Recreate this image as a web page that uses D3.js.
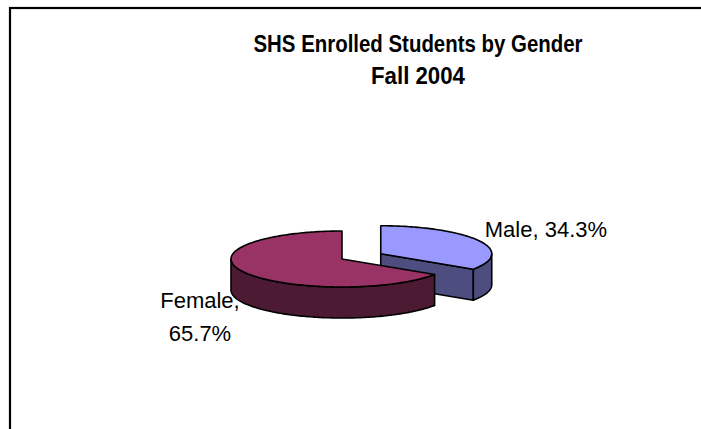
<!DOCTYPE html>
<html>
<head>
<meta charset="utf-8">
<script src="https://cdn.jsdelivr.net/npm/d3@7"></script>
<style>
  body { margin: 0; background: #fff; }
  svg { display: block; }
</style>
</head>
<body>
<div id="vis"></div>
<script>
const WIDTH = 701;
const HEIGHT = 429;

// data
const titleLines = ['SHS Enrolled Students by Gender', 'Fall 2004'];
const genders = ['Male', 'Female'];
const shares = [34.3, 65.7];
const topColors = ['#9999ff', '#993366'];
const sideColors = ['#4d4d80', '#4d1a33'];

// pie geometry (3d ellipse)
const CX = 342, CY = 259;
const RX = 111, RY = 28;
const DEPTH = 31;
const explode = { Male: 44, Female: 0 };

let svg = d3.select('#vis')
  .append('svg')
  .attr('width', WIDTH)
  .attr('height', HEIGHT);

svg.append('rect')
  .attr('width', WIDTH).attr('height', HEIGHT)
  .attr('fill', '#fff');

// chart frame (cropped at right and bottom)
svg.append('rect')
  .attr('x', 10).attr('y', 8)
  .attr('width', 900).attr('height', 600)
  .attr('fill', 'none')
  .attr('stroke', '#000')
  .attr('stroke-width', 2.2);

svg.selectAll('.title')
  .data(titleLines)
  .enter()
  .append('text')
  .attr('class', 'title')
  .attr('x', 418)
  .attr('y', (d, i) => 52 + i * 32)
  .attr('text-anchor', 'middle')
  .attr('textLength', (d, i) => i === 0 ? 329 : 94)
  .attr('lengthAdjust', 'spacingAndGlyphs')
  .style('font-family', 'Liberation Sans, Arial, sans-serif')
  .style('font-weight', 'bold')
  .style('font-size', '23px')
  .text(d => d);

let pie = d3.pie().sort(null).value(d => d.value);
let arcs = pie(genders.map((g, i) => ({ name: g, value: shares[i], i: i })));

let line = d3.line();

function pt(c, a, dy) {
  return [c[0] + RX * Math.sin(a), c[1] - RY * Math.cos(a) + (dy || 0)];
}
function sample(a0, a1) {
  let n = Math.max(2, Math.ceil(Math.abs(a1 - a0) / 0.02));
  return d3.range(n + 1).map(i => a0 + (a1 - a0) * i / n);
}

arcs.forEach(d => {
  let mid = (d.startAngle + d.endAngle) / 2;
  let e = explode[d.data.name];
  d.center = [CX + e * Math.sin(mid), CY - e * Math.cos(mid) * RY / RX];
});

let g = svg.append('g')
  .attr('stroke', '#000')
  .attr('stroke-width', 1.6)
  .attr('stroke-linejoin', 'round');

arcs.forEach(d => {
  let c = d.center;
  let i = d.data.i;
  // radial cut faces that face the viewer
  [[d.startAngle, -1], [d.endAngle, 1]].forEach(([a, s]) => {
    let ny = s * Math.sin(a);
    if (ny > 0.05) {
      let p = pt(c, a);
      g.append('path')
        .attr('d', line([c, p, [p[0], p[1] + DEPTH], [c[0], c[1] + DEPTH]]) + 'Z')
        .attr('fill', sideColors[i]);
    }
  });
  // front outer wall
  let a0 = Math.max(d.startAngle, Math.PI / 2);
  let a1 = Math.min(d.endAngle, Math.PI * 1.5);
  if (a1 > a0) {
    let angs = sample(a0, a1);
    let pts = angs.map(a => pt(c, a)).concat(angs.slice().reverse().map(a => pt(c, a, DEPTH)));
    g.append('path')
      .attr('d', line(pts) + 'Z')
      .attr('fill', sideColors[i]);
  }
  // top face
  let topPts = [c].concat(sample(d.startAngle, d.endAngle).map(a => pt(c, a)));
  g.append('path')
    .attr('d', line(topPts) + 'Z')
    .attr('fill', topColors[i]);
});

// labels
let fmt = d3.format('.1f');
let labelStyle = sel => sel
  .style('font-family', 'Liberation Sans, Arial, sans-serif')
  .style('font-size', '22px')
  .attr('fill', '#000');

let male = arcs[0];
svg.append('text')
  .attr('x', male.center[0] + RX - 7)
  .attr('y', male.center[1] - 17)
  .call(labelStyle)
  .text(male.data.name + ', ' + fmt(male.data.value) + '%');

let female = arcs[1];
let ft = svg.append('text')
  .attr('text-anchor', 'middle')
  .call(labelStyle);
ft.append('tspan')
  .attr('x', female.center[0] - 142)
  .attr('y', female.center[1] + 49)
  .text(female.data.name + ',');
ft.append('tspan')
  .attr('x', female.center[0] - 142)
  .attr('y', female.center[1] + 82)
  .text(fmt(female.data.value) + '%');
</script>
</body>
</html>
